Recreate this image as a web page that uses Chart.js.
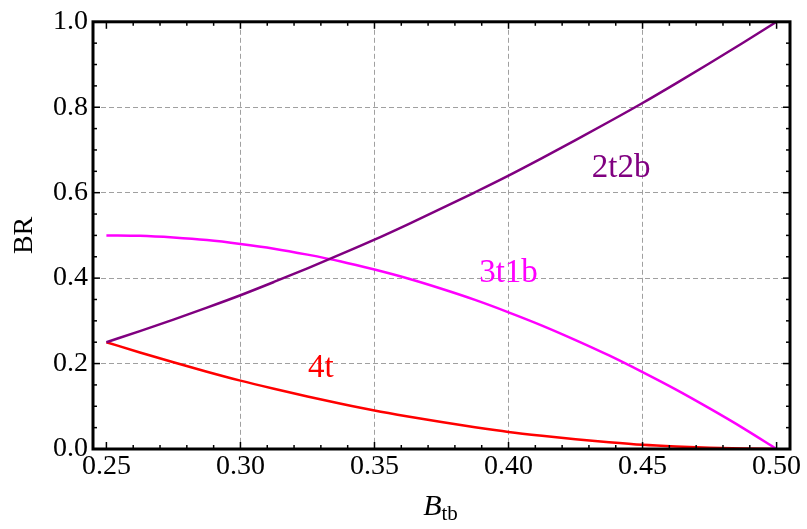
<!DOCTYPE html>
<html>
<head>
<meta charset="utf-8">
<script src="https://cdn.jsdelivr.net/npm/chart.js@4/dist/chart.umd.min.js"></script>
<style>
  html, body { margin: 0; padding: 0; background: #fff; }
  canvas { display: block; }
</style>
</head>
<body>
<canvas id="brChart" width="807" height="529"></canvas>
<script>
// values
const bTb = [0.25, 0.2625, 0.275, 0.2875, 0.30, 0.3125, 0.325, 0.3375, 0.35, 0.3625, 0.375,
  0.3875, 0.40, 0.4125, 0.425, 0.4375, 0.45, 0.4625, 0.475, 0.4875, 0.50]
const br2t2b = [0.250, 0.276, 0.303, 0.331, 0.360, 0.391, 0.423, 0.456, 0.490, 0.526, 0.563,
  0.601, 0.640, 0.681, 0.723, 0.766, 0.810, 0.856, 0.903, 0.951, 1.000]
const br3t1b = [0.500, 0.499, 0.495, 0.489, 0.480, 0.469, 0.455, 0.439, 0.420, 0.399, 0.375,
  0.349, 0.320, 0.289, 0.255, 0.219, 0.180, 0.139, 0.095, 0.049, 0.000]
const br4t = [0.250, 0.226, 0.203, 0.181, 0.160, 0.141, 0.123, 0.106, 0.090, 0.076, 0.063,
  0.051, 0.040, 0.031, 0.023, 0.016, 0.010, 0.006, 0.003, 0.001, 0.000]

const xTicks = [0.25, 0.30, 0.35, 0.40, 0.45, 0.50]
const yTicks = [0.0, 0.2, 0.4, 0.6, 0.8, 1.0]
const xMinor = [0.26, 0.27, 0.28, 0.29, 0.31, 0.32, 0.33, 0.34, 0.36, 0.37, 0.38, 0.39,
  0.41, 0.42, 0.43, 0.44, 0.46, 0.47, 0.48, 0.49]
const yMinor = [0.05, 0.1, 0.15, 0.25, 0.3, 0.35, 0.45, 0.5, 0.55, 0.65, 0.7, 0.75, 0.85, 0.9, 0.95]

const curveLabels = [
  { text: '2t2b', x: 0.442, y: 0.657, color: '#800080' },
  { text: '3t1b', x: 0.400, y: 0.411, color: '#ff00ff' },
  { text: '4t', x: 0.330, y: 0.189, color: '#ff0000' }
]

const serif = '"Liberation Serif", "Times New Roman", serif'

const toPoints = ys => ys.map((y, i) => ({ x: bTb[i], y: y }))

// frame, inside ticks, curve labels and x title
const framePlugin = {
  id: 'frame',
  afterDatasetsDraw(chart) {
    const ctx = chart.ctx
    const a = chart.chartArea
    const xs = chart.scales.x
    const ys = chart.scales.y
    ctx.save()
    ctx.strokeStyle = '#000'
    ctx.lineWidth = 1.5
    const tick = (v, len, horiz) => {
      if (horiz) {
        const px = xs.getPixelForValue(v)
        ctx.beginPath(); ctx.moveTo(px, a.bottom); ctx.lineTo(px, a.bottom - len); ctx.stroke()
        ctx.beginPath(); ctx.moveTo(px, a.top); ctx.lineTo(px, a.top + len); ctx.stroke()
      } else {
        const py = ys.getPixelForValue(v)
        ctx.beginPath(); ctx.moveTo(a.left, py); ctx.lineTo(a.left + len, py); ctx.stroke()
        ctx.beginPath(); ctx.moveTo(a.right, py); ctx.lineTo(a.right - len, py); ctx.stroke()
      }
    }
    xTicks.forEach(v => tick(v, 7, true))
    xMinor.forEach(v => tick(v, 4, true))
    yTicks.forEach(v => tick(v, 7, false))
    yMinor.forEach(v => tick(v, 4, false))

    ctx.lineWidth = 3
    ctx.strokeRect(a.left, a.top, a.right - a.left, a.bottom - a.top)

    ctx.font = '33px ' + serif
    ctx.textAlign = 'center'
    ctx.textBaseline = 'middle'
    curveLabels.forEach(l => {
      ctx.fillStyle = l.color
      ctx.fillText(l.text, xs.getPixelForValue(l.x), ys.getPixelForValue(l.y))
    })

    // x axis title: italic B with subscript tb
    ctx.fillStyle = '#000'
    ctx.textAlign = 'left'
    ctx.textBaseline = 'alphabetic'
    ctx.font = 'italic 30px ' + serif
    const cx = (a.left + a.right) / 2
    const wB = ctx.measureText('B').width
    ctx.font = '21px ' + serif
    const wSub = ctx.measureText('tb').width
    const x0 = cx - (wB + wSub) / 2 - 1
    ctx.font = 'italic 30px ' + serif
    ctx.fillText('B', x0, 515)
    ctx.font = '21px ' + serif
    ctx.fillText('tb', x0 + wB, 520)
    ctx.restore()
  }
}

const hideEdge = (edges) => ctx => edges.includes(ctx.tick && ctx.tick.value) ? 'rgba(0,0,0,0)' : '#a0a0a0'

const chart = new Chart(document.getElementById('brChart'), {
  type: 'line',
  data: {
    datasets: [
      { label: '2t2b', data: toPoints(br2t2b), borderColor: '#800080', borderWidth: 2.5 },
      { label: '3t1b', data: toPoints(br3t1b), borderColor: '#ff00ff', borderWidth: 2.5 },
      { label: '4t', data: toPoints(br4t), borderColor: '#ff0000', borderWidth: 2.5 }
    ]
  },
  options: {
    responsive: false,
    animation: false,
    devicePixelRatio: 1,
    layout: { padding: { top: 17, right: 17, left: 0, bottom: 0 } },
    elements: {
      point: { radius: 0 },
      line: { cubicInterpolationMode: 'monotone', fill: false }
    },
    plugins: {
      legend: { display: false },
      tooltip: { enabled: false }
    },
    scales: {
      x: {
        type: 'linear',
        min: 0.245,
        max: 0.505,
        afterBuildTicks: s => { s.ticks = xTicks.map(v => ({ value: v })) },
        afterFit: s => { s.height = 80 },
        grid: { drawTicks: false, color: hideEdge([0.25, 0.5]), lineWidth: 1 },
        border: { display: false, dash: [5, 3] },
        ticks: {
          autoSkip: false,
          maxRotation: 0,
          padding: 1,
          color: '#000',
          font: { family: serif, size: 28 },
          callback: v => v.toFixed(2)
        }
      },
      y: {
        type: 'linear',
        min: 0,
        max: 1,
        afterBuildTicks: s => { s.ticks = yTicks.map(v => ({ value: v })) },
        afterFit: s => { s.width = 93 },
        grid: { drawTicks: false, color: hideEdge([0, 1]), lineWidth: 1 },
        border: { display: false, dash: [5, 3] },
        ticks: {
          autoSkip: false,
          padding: 5,
          color: '#000',
          font: { family: serif, size: 28 },
          callback: v => v.toFixed(1)
        },
        title: {
          display: true,
          text: 'BR',
          color: '#000',
          font: { family: serif, size: 28 },
          padding: { top: 8, bottom: 0 }
        }
      }
    }
  },
  plugins: [framePlugin]
})
</script>
</body>
</html>
